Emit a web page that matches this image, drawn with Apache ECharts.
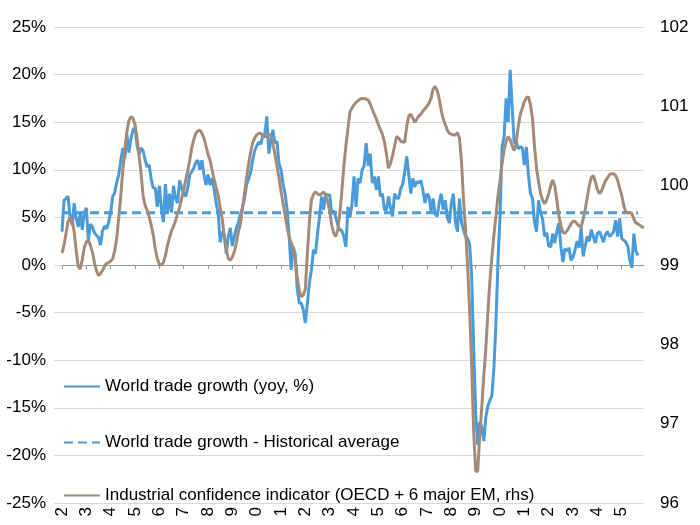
<!DOCTYPE html>
<html>
<head>
<meta charset="utf-8">
<script src="https://cdn.jsdelivr.net/npm/echarts@6/dist/echarts.min.js"></script>
<style>html,body{margin:0;padding:0;background:#fff;}#c{width:700px;height:525px;}</style>
</head>
<body>
<div id="c"></div>
<script>
// Monthly categories Jan 1992 .. Dec 2015
const startYear = 1992, endYear = 2015;
const months = [];
for (let y = startYear; y <= endYear; y++) {
  for (let m = 1; m <= 12; m++) months.push(y + '-' + (m < 10 ? '0' + m : m));
}

// World trade growth (yoy, %), monthly from Jan 1992
const tradeGrowth = [
  3.5, 6.8, 7.0, 7.2, 5.0, 4.2, 6.5, 4.9, 4.0, 5.5, 3.7, 5.5,        // 1992
  6.0, 2.6, 4.3, 4.0, 3.4, 3.1, 2.9, 2.1, 3.6, 4.1, 3.8, 4.5,        // 1993
  5.5, 7.2, 7.6, 8.7, 9.5, 11.0, 12.3, 11.2, 13.7, 11.8, 13.3, 14.2, // 1994
  14.4, 12.6, 11.6, 12.3, 12.0, 11.0, 10.3, 10.5, 9.0, 8.1, 8.1, 6.1,// 1995
  8.3, 6.0, 4.5, 8.5, 5.5, 7.5, 5.5, 8.3, 7.0, 6.5, 8.9, 8.1,        // 1996
  7.5, 7.2, 8.1, 9.5, 9.8, 10.2, 10.8, 11.0, 10.0, 11.0, 9.5, 8.4,   // 1997
  9.5, 8.4, 9.1, 8.0, 6.5, 5.5, 2.4, 3.5, 3.2, 1.2, 3.0, 3.9,        // 1998
  2.0, 3.0, 3.9, 4.5, 5.3, 6.0, 7.0, 8.4, 9.0, 9.7, 11.0, 12.0,      // 1999
  12.5, 12.9, 12.7, 13.5, 13.8, 15.6, 11.7, 13.0, 14.2, 12.8, 13.0, 10.7, // 2000
  10.0, 8.5, 7.5, 5.8, 3.0, -0.5, 1.9, 1.2, -2.5, -4.0, -4.0, -4.7,  // 2001
  -6.1, -4.0, -1.9, -0.5, 1.6, 1.2, 3.3, 5.1, 7.2, 5.8, 7.5, 7.3,    // 2002
  7.4, 5.4, 5.7, 5.0, 4.2, 3.7, 3.6, 3.0, 1.9, 6.1, 5.0, 6.4,        // 2003
  9.3, 6.1, 9.1, 8.6, 10.0, 10.4, 12.8, 10.4, 11.7, 8.6, 9.3, 7.9,   // 2004
  9.3, 7.2, 7.5, 5.8, 5.8, 7.2, 6.0, 5.1, 7.5, 7.0, 7.0, 8.0,        // 2005
  8.5, 9.8, 11.4, 9.5, 7.5, 9.1, 8.2, 8.8, 8.6, 8.9, 7.8, 6.5,       // 2006
  7.5, 7.2, 5.6, 7.0, 5.4, 5.1, 6.5, 7.5, 5.8, 6.8, 5.0, 4.4,        // 2007
  6.5, 7.5, 4.5, 3.5, 7.0, 4.5, 3.7, 3.0, 2.8, 2.2, -1.0, -8.6,      // 2008
  -15.5, -18.9, -16.5, -17.0, -18.5, -16.0, -14.8, -14.2, -13.7, -10.8, -6.0, 0.5, // 2009
  5.1, 12.4, 13.5, 17.5, 15.0, 20.5, 16.5, 12.8, 13.0, 12.2, 12.4, 12.3, // 2010
  10.5, 12.4, 9.5, 7.5, 7.0, 4.5, 3.5, 6.8, 5.5, 4.8, 3.0, 3.4,      // 2011
  2.0, 1.9, 3.3, 2.3, 3.5, 4.4, 2.0, 0.3, 1.7, 1.5, 1.8, 0.5,        // 2012
  0.8, 1.6, 2.5, 1.8, 4.0, 0.9, 2.0, 3.0, 2.5, 3.7, 3.0, 2.3,        // 2013
  3.3, 3.5, 3.0, 2.4, 3.2, 3.5, 3.0, 3.2, 3.5, 4.7, 3.0, 4.9,        // 2014
  2.8, 2.6, 2.4, 2.0, 0.5, -0.3, 3.3, 1.5, 1.0                       // 2015
];

// Historical average of world trade growth (%)
const tradeAverage = 5.5;
const averageSpan = ['1992-01', '2015-09'];

// Industrial confidence indicator (rhs), monthly from Jan 1992
const confidence = [
  99.15, 99.25, 99.40, 99.55, 99.60, 99.57, 99.42, 99.18, 98.98, 98.95, 99.07, 99.22, // 1992
  99.29, 99.31, 99.25, 99.16, 99.03, 98.93, 98.87, 98.89, 98.93, 98.99, 99.02, 99.03, // 1993
  99.05, 99.08, 99.18, 99.34, 99.60, 99.88, 100.20, 100.45, 100.68, 100.82, 100.87, 100.85, // 1994
  100.77, 100.60, 100.38, 100.15, 99.87, 99.75, 99.69, 99.61, 99.50, 99.38, 99.20, 99.08, // 1995
  99.01, 99.00, 99.03, 99.12, 99.25, 99.34, 99.43, 99.49, 99.56, 99.65, 99.73, 99.84, // 1996
  99.95, 100.07, 100.19, 100.32, 100.48, 100.58, 100.66, 100.69, 100.70, 100.66, 100.60, 100.50, // 1997
  100.40, 100.32, 100.20, 100.08, 99.98, 99.88, 99.72, 99.58, 99.37, 99.20, 99.08, 99.06, // 1998
  99.10, 99.17, 99.28, 99.42, 99.52, 99.72, 99.90, 100.10, 100.27, 100.42, 100.54, 100.60, // 1999
  100.64, 100.66, 100.66, 100.63, 100.62, 100.62, 100.65, 100.63, 100.53, 100.40, 100.25, 100.10, // 2000
  99.93, 99.78, 99.63, 99.48, 99.35, 99.28, 99.21, 99.08, 98.85, 98.68, 98.60, 98.62, // 2001
  98.70, 99.15, 99.55, 99.82, 99.89, 99.92, 99.90, 99.88, 99.90, 99.92, 99.88, 99.80, // 2002
  99.68, 99.50, 99.40, 99.36, 99.45, 99.65, 99.93, 100.25, 100.50, 100.72, 100.93, 100.98, // 2003
  101.02, 101.05, 101.07, 101.09, 101.10, 101.10, 101.09, 101.08, 101.03, 100.96, 100.90, 100.84, // 2004
  100.77, 100.71, 100.65, 100.55, 100.40, 100.22, 100.28, 100.38, 100.50, 100.62, 100.60, 100.56, // 2005
  100.55, 100.55, 100.75, 100.88, 100.90, 100.85, 100.80, 100.84, 100.88, 100.90, 100.94, 100.97, // 2006
  101.00, 101.04, 101.10, 101.22, 101.25, 101.20, 101.10, 100.95, 100.84, 100.77, 100.70, 100.66, // 2007
  100.65, 100.64, 100.64, 100.67, 100.60, 100.30, 99.82, 99.45, 99.00, 98.45, 97.75, 96.90, // 2008
  96.40, 96.40, 96.85, 97.21, 97.60, 97.95, 98.40, 98.80, 99.10, 99.38, 99.62, 99.88, // 2009
  100.06, 100.28, 100.45, 100.56, 100.62, 100.58, 100.50, 100.44, 100.55, 100.75, 100.90, 100.98, // 2010
  101.06, 101.11, 101.12, 101.02, 100.85, 100.50, 100.22, 100.05, 99.90, 99.82, 99.77, 99.82, // 2011
  99.90, 100.00, 100.07, 100.00, 99.82, 99.62, 99.50, 99.41, 99.40, 99.43, 99.47, 99.52, // 2012
  99.55, 99.55, 99.52, 99.49, 99.48, 99.58, 99.70, 99.85, 100.00, 100.10, 100.13, 100.05, // 2013
  99.95, 99.90, 99.93, 100.00, 100.06, 100.10, 100.14, 100.15, 100.15, 100.13, 100.07, 99.97, // 2014
  99.88, 99.75, 99.67, 99.66, 99.66, 99.65, 99.58, 99.53, 99.52, 99.50, 99.48, 99.47  // 2015
];

const leftTicks = { min: -25, max: 25, step: 5 };
const rightTicks = { min: 96, max: 102, step: 1 };

const seriesNames = [
  'World trade growth (yoy, %)',
  'World trade growth - Historical average',
  'Industrial confidence indicator (OECD + 6 major EM, rhs)'
];

const BLUE = '#4A9BDB';
const BROWN = '#A68A79';
const FONT = 'Liberation Sans, Arial, Helvetica, sans-serif';

const chart = echarts.init(document.getElementById('c'), null, { renderer: 'canvas' });

const legendBase = {
  orient: 'vertical',
  left: 58,
  itemWidth: 36,
  itemHeight: 14,
  itemGap: 10,
  itemStyle: { opacity: 0 },
  textStyle: { fontFamily: FONT, fontSize: 17, color: '#000' },
  selectedMode: false
};

const yearTick = function (idx) { return idx % 12 === 0; };

chart.setOption({
  animation: false,
  backgroundColor: '#fff',
  grid: { left: 62, right: 56, top: 27, bottom: 22, containLabel: false },
  legend: [
    Object.assign({}, legendBase, { top: 373, data: [seriesNames[0]] }),
    Object.assign({}, legendBase, { top: 429, data: [seriesNames[1]] }),
    Object.assign({}, legendBase, { top: 482, data: [seriesNames[2]] })
  ],
  xAxis: [
    {
      type: 'category',
      data: months,
      boundaryGap: false,
      position: 'bottom',
      axisLine: { show: true, onZero: true, onZeroAxisIndex: 0, lineStyle: { color: '#999', width: 1 } },
      axisTick: { show: true, interval: yearTick, length: 4, lineStyle: { color: '#999' } },
      axisLabel: { show: false },
      splitLine: { show: false }
    },
    {
      type: 'category',
      data: months,
      boundaryGap: false,
      position: 'bottom',
      axisLine: { show: false, onZero: false },
      axisTick: { show: false },
      axisLabel: {
        show: true,
        interval: yearTick,
        rotate: 90,
        margin: 4,
        fontFamily: FONT,
        fontSize: 17,
        color: '#000',
        formatter: function (v) { return v.charAt(3); }
      },
      splitLine: { show: false }
    }
  ],
  yAxis: [
    {
      type: 'value',
      min: leftTicks.min, max: leftTicks.max, interval: leftTicks.step,
      axisLine: { show: false },
      axisTick: { show: true, length: 8, lineStyle: { color: '#D9D9D9' } },
      axisLabel: { formatter: '{value}%', margin: 16, fontFamily: FONT, fontSize: 17, color: '#000' },
      splitLine: { show: true, lineStyle: { color: '#D9D9D9', width: 1 } }
    },
    {
      type: 'value',
      min: rightTicks.min, max: rightTicks.max, interval: rightTicks.step,
      position: 'right',
      axisLine: { show: false },
      axisTick: { show: false },
      axisLabel: { margin: 16, fontFamily: FONT, fontSize: 17, color: '#000' },
      splitLine: { show: false }
    }
  ],
  series: [
    {
      name: seriesNames[0],
      type: 'line',
      xAxisIndex: 0, yAxisIndex: 0,
      data: tradeGrowth,
      symbol: 'none',
      legendIcon: 'none',
      lineStyle: { color: BLUE, width: 3 },
      itemStyle: { color: BLUE }
    },
    {
      name: seriesNames[1],
      type: 'line',
      xAxisIndex: 0, yAxisIndex: 0,
      data: averageSpan.map(function (m) { return [m, tradeAverage]; }),
      symbol: 'none',
      legendIcon: 'none',
      lineStyle: { color: BLUE, width: 3, type: [9, 5] },
      itemStyle: { color: BLUE }
    },
    {
      name: seriesNames[2],
      type: 'line',
      xAxisIndex: 0, yAxisIndex: 1,
      data: confidence,
      symbol: 'none',
      legendIcon: 'none',
      lineStyle: { color: BROWN, width: 3 },
      itemStyle: { color: BROWN }
    }
  ]
});
</script>
</body>
</html>
